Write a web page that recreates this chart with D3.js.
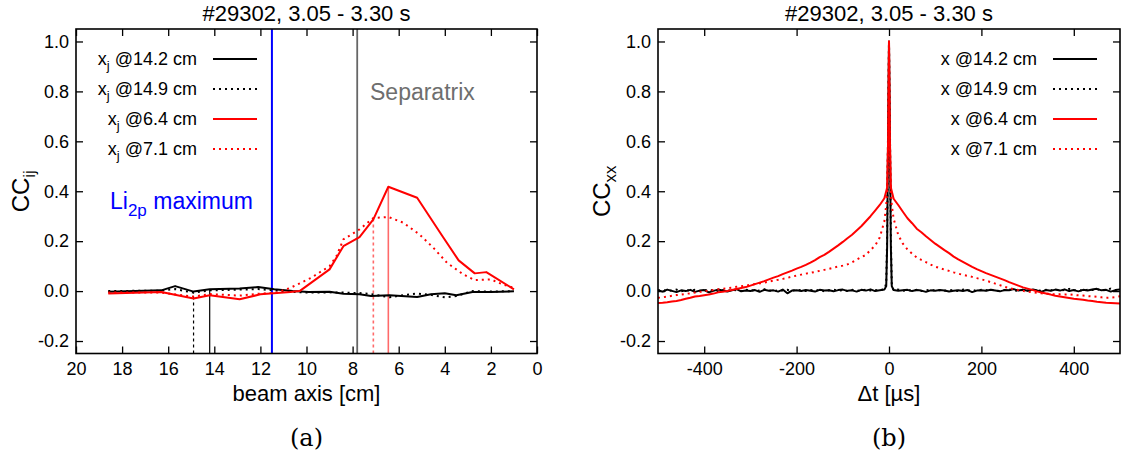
<!DOCTYPE html>
<html>
<head>
<meta charset="utf-8">
<script src="https://cdn.jsdelivr.net/npm/d3@7"></script>
<style>
  body { margin: 0; background: #fff; }
  svg text { font-family: "Liberation Sans", Arial, sans-serif; }
</style>
</head>
<body>
<svg id="fig" width="1123" height="461"></svg>
<script>
// ---- data ----
var titleText = "#29302, 3.05 - 3.30 s";
var yTicks = [-0.2, 0.0, 0.2, 0.4, 0.6, 0.8, 1.0];
var xTicksA = [20, 18, 16, 14, 12, 10, 8, 6, 4, 2, 0];
var xTicksB = [-400, -200, 0, 200, 400];

// panel (a): cross correlation vs beam axis position [cm]
var blackSolidAX = [18.6, 16.3, 15.7, 14.9, 14.2, 12.9, 12.1, 11.4, 10.6, 9.9, 9.0, 8.4, 7.7, 7.2, 6.4, 5.2, 4.6, 4.0, 3.5, 2.8, 2.0, 1.0];
var blackSolidAY = [-0.003, 0.003, 0.020, -0.002, 0.007, 0.010, 0.016, 0.007, 0.000, -0.004, -0.003, -0.011, -0.013, -0.020, -0.017, -0.024, -0.013, -0.009, -0.017, -0.004, -0.004, -0.001];
var blackDotAX = [18.6, 16.3, 15.7, 14.9, 14.2, 12.9, 12.1, 11.4, 10.6, 9.9, 9.0, 8.4, 7.7, 7.2, 6.4, 5.8, 5.2, 4.6, 4.0, 3.5, 2.8, 2.0, 1.0];
var blackDotAY = [0.000, 0.002, 0.008, -0.006, 0.003, 0.006, 0.008, 0.003, -0.003, -0.006, -0.005, -0.006, -0.008, -0.012, -0.025, -0.016, -0.010, -0.015, -0.025, -0.020, 0.000, -0.002, 0.000];
var redSolidAX = [18.6, 16.3, 14.9, 14.2, 12.9, 12.0, 10.7, 10.3, 9.0, 8.4, 7.7, 7.1, 6.45, 5.2, 4.1, 3.4, 2.7, 2.2, 1.0];
var redSolidAY = [-0.010, -0.004, -0.030, -0.017, -0.033, -0.013, -0.004, 0.000, 0.087, 0.180, 0.216, 0.287, 0.418, 0.374, 0.220, 0.123, 0.071, 0.076, 0.007];
var redDotAX = [18.6, 16.3, 14.9, 14.2, 12.9, 12.0, 11.3, 10.7, 9.8, 9.0, 8.7, 8.4, 7.7, 7.1, 6.45, 5.8, 5.1, 4.5, 3.9, 3.2, 2.7, 2.0, 1.5, 1.0];
var redDotAY = [-0.006, -0.006, -0.022, -0.012, -0.018, -0.010, -0.006, 0.013, 0.053, 0.100, 0.140, 0.207, 0.247, 0.293, 0.297, 0.274, 0.227, 0.174, 0.113, 0.067, 0.044, 0.047, 0.027, 0.013];

// reference channel markers (position, height reached)
var markerPos = [14.2, 14.9, 6.45, 7.1];
var markerTop = [0.007, -0.006, 0.418, 0.293];
var li2pPos = 11.5;
var separatrixPos = 7.8;

// panel (b): auto correlation vs time lag [us]
var lagUs = [-500, -490, -480, -470, -460, -450, -440, -430, -420, -410,
  -400, -390, -380, -370, -360, -350, -340, -330, -320, -310,
  -300, -290, -280, -270, -260, -250, -240, -230, -220, -210,
  -200, -190, -180, -170, -160, -150, -140, -130, -120, -110,
  -100, -90, -80, -70, -60, -50, -40, -30, -20, -10,
  -6, -4, -2, 0, 2, 4, 6,
  10, 20, 30, 40, 50, 60, 70, 80, 90, 100,
  110, 120, 130, 140, 150, 160, 170, 180, 190, 200,
  210, 220, 230, 240, 250, 260, 270, 280, 290, 300,
  310, 320, 330, 340, 350, 360, 370, 380, 390, 400,
  410, 420, 430, 440, 450, 460, 470, 480, 490, 500];
var blackSolidB = [0.004, -0.002, 0.006, 0.001, -0.004, 0.003, 0.000, 0.005, -0.003, 0.002,
  0.004, -0.005, 0.001, 0.006, 0.002, -0.002, 0.003, 0.008, -0.001, 0.002,
  0.000, 0.004, -0.003, 0.005, 0.001, 0.003, -0.002, 0.006, -0.009, 0.002,
  0.003, 0.000, 0.004, 0.001, -0.002, 0.005, 0.002, 0.003, -0.001, 0.004,
  0.006, 0.001, 0.003, -0.002, 0.005, 0.002, 0.007, 0.000, 0.003, 0.006,
  0.02, 0.18, 0.62, 1.0, 0.62, 0.18, 0.02,
  0.004, 0.001, 0.003, 0.005, 0.000, 0.004, 0.002, -0.003, 0.003, 0.001,
  0.004, 0.002, -0.002, 0.001, 0.003, 0.000, 0.004, -0.004, 0.002, 0.003,
  0.001, 0.005, 0.002, -0.001, 0.004, 0.003, 0.008, 0.002, 0.005, 0.001,
  0.006, 0.003, -0.002, 0.004, 0.001, 0.006, 0.002, 0.007, 0.000, 0.004,
  -0.001, 0.005, 0.002, 0.006, 0.009, 0.003, 0.005, -0.002, 0.004, 0.006];
var blackDotB = [0.002, 0.005, 0.000, 0.003, 0.006, -0.001, 0.004, 0.002, 0.005, 0.000,
  0.003, 0.006, 0.002, -0.002, 0.004, 0.001, 0.005, 0.003, 0.000, 0.006,
  0.002, 0.004, 0.001, 0.007, 0.003, -0.001, 0.004, 0.002, 0.005, 0.001,
  0.006, 0.003, 0.000, 0.004, 0.002, 0.005, -0.001, 0.003, 0.006, 0.002,
  0.004, 0.000, 0.005, 0.003, 0.001, 0.006, 0.002, 0.004, 0.003, 0.008,
  0.03, 0.22, 0.66, 1.0, 0.66, 0.22, 0.03,
  0.003, 0.006, 0.001, 0.004, 0.002, 0.005, 0.000, 0.003, 0.006, 0.002,
  0.004, 0.001, 0.005, 0.003, 0.000, 0.006, 0.002, 0.004, 0.001, 0.005,
  0.003, 0.006, 0.002, 0.000, 0.004, 0.007, 0.003, 0.001, 0.005, 0.002,
  0.006, 0.004, 0.001, 0.005, 0.003, 0.007, 0.002, 0.004, 0.009, 0.003,
  0.005, 0.001, 0.006, 0.004, 0.008, 0.002, 0.005, 0.010, 0.003, 0.006];
var redSolidB = [-0.048, -0.047, -0.045, -0.042, -0.040, -0.036, -0.031, -0.027, -0.022, -0.020,
  -0.017, -0.014, -0.010, -0.005, -0.003, 0.000, 0.004, 0.008, 0.012, 0.016,
  0.022, 0.028, 0.034, 0.040, 0.047, 0.054, 0.060, 0.068, 0.075, 0.082,
  0.090, 0.097, 0.105, 0.114, 0.124, 0.136, 0.145, 0.157, 0.170, 0.183,
  0.197, 0.212, 0.226, 0.243, 0.260, 0.280, 0.300, 0.322, 0.345, 0.372,
  0.400, 0.415, 0.60, 1.0, 0.60, 0.415, 0.400,
  0.370, 0.345, 0.318, 0.292, 0.272, 0.250, 0.236, 0.220, 0.205, 0.190,
  0.177, 0.164, 0.152, 0.138, 0.127, 0.117, 0.107, 0.097, 0.088, 0.080,
  0.072, 0.065, 0.058, 0.051, 0.044, 0.036, 0.029, 0.022, 0.015, 0.010,
  0.005, -0.001, -0.006, -0.010, -0.014, -0.019, -0.022, -0.025, -0.028, -0.031,
  -0.033, -0.035, -0.038, -0.040, -0.043, -0.045, -0.047, -0.048, -0.049, -0.050];
var redDotB = [-0.027, -0.025, -0.022, -0.019, -0.016, -0.014, -0.011, -0.009, -0.006, -0.003,
  -0.001, 0.002, 0.004, 0.007, 0.009, 0.011, 0.014, 0.017, 0.019, 0.022,
  0.025, 0.028, 0.031, 0.034, 0.038, 0.042, 0.045, 0.049, 0.053, 0.058,
  0.062, 0.066, 0.070, 0.073, 0.077, 0.081, 0.085, 0.089, 0.094, 0.098,
  0.102, 0.107, 0.115, 0.126, 0.136, 0.145, 0.165, 0.182, 0.215, 0.280,
  0.345, 0.40, 0.60, 1.0, 0.60, 0.40, 0.345,
  0.290, 0.225, 0.190, 0.167, 0.150, 0.135, 0.125, 0.116, 0.106, 0.098,
  0.092, 0.086, 0.081, 0.075, 0.070, 0.065, 0.061, 0.057, 0.052, 0.047,
  0.042, 0.036, 0.030, 0.024, 0.017, 0.012, 0.008, 0.004, 0.001, -0.002,
  -0.005, -0.007, -0.009, -0.010, -0.012, -0.013, -0.013, -0.014, -0.013, -0.015,
  -0.017, -0.018, -0.020, -0.021, -0.023, -0.025, -0.027, -0.026, -0.024, -0.021];

var legendA = [["x", "j", " @14.2 cm"], ["x", "j", " @14.9 cm"], ["x", "j", " @6.4 cm"], ["x", "j", " @7.1 cm"]];
var legendB = [["x", "", " @14.2 cm"], ["x", "", " @14.9 cm"], ["x", "", " @6.4 cm"], ["x", "", " @7.1 cm"]];
var seriesColor = ["#000", "#000", "#ff0000", "#ff0000"];
var seriesDash = [null, "2,4", null, "2,4"];

// ---- drawing ----
var svg = d3.select("#fig");
var plotTop = 29, plotBottom = 353.5;

function zip(xs, ys) {
	return xs.map(function(x, i) {return [x, ys[i]];});
}

function buildPanel(opt) {
	var x = d3.scaleLinear().domain(opt.xDomain).range([opt.left, opt.right]);
	var y = d3.scaleLinear().domain([-0.25, 1.05]).range([plotBottom, plotTop]);
	var g = svg.append("g");

	// axes, gnuplot style: inward ticks on all four sides
	var ax = g.append("g").attr("transform", "translate(0," + plotBottom + ")")
			.call(d3.axisBottom(x).tickValues(opt.xTicks).tickSize(-7).tickPadding(9)
				.tickFormat(function(d) {return String(d);}));
	var axTop = g.append("g").attr("transform", "translate(0," + plotTop + ")")
			.call(d3.axisTop(x).tickValues(opt.xTicks).tickSize(-7).tickFormat(""));
	var ay = g.append("g").attr("transform", "translate(" + opt.left + ",0)")
			.call(d3.axisLeft(y).tickValues(yTicks).tickSize(-7).tickPadding(7)
				.tickFormat(function(d) {return d.toFixed(1);}));
	var ayR = g.append("g").attr("transform", "translate(" + opt.right + ",0)")
			.call(d3.axisRight(y).tickValues(yTicks).tickSize(-7).tickFormat(""));
	[ax, axTop, ay, ayR].forEach(function(a) {
		a.select(".domain").remove();
		a.selectAll("line").attr("stroke", "#000").attr("stroke-width", 1.3);
		a.selectAll("text").attr("font-size", 18).attr("fill", "#000")
			.style("font-family", "'Liberation Sans', Arial, sans-serif");
	});

	var plot = g.append("g");
	var line = d3.line().x(function(d) {return x(d[0]);}).y(function(d) {return y(d[1]);});

	if (opt.extra) opt.extra(plot, x, y);

	opt.series.forEach(function(s, i) {
		plot.append("path")
			.datum(s)
			.attr("d", line)
			.attr("fill", "none")
			.attr("stroke", seriesColor[i])
			.attr("stroke-width", 2)
			.attr("stroke-dasharray", seriesDash[i])
			.attr("stroke-linejoin", "round");
	});

	// frame
	g.append("rect")
		.attr("x", opt.left).attr("y", plotTop)
		.attr("width", opt.right - opt.left).attr("height", plotBottom - plotTop)
		.attr("fill", "none").attr("stroke", "#000").attr("stroke-width", 1.6);

	// title and labels
	var cx = (opt.left + opt.right) / 2;
	g.append("text").attr("x", cx).attr("y", 21).attr("text-anchor", "middle")
		.attr("font-size", 22).text(titleText);
	g.append("text").attr("x", cx).attr("y", 401).attr("text-anchor", "middle")
		.attr("font-size", 22).text(opt.xLabel);
	g.append("text").attr("x", cx).attr("y", 446).attr("text-anchor", "middle")
		.attr("font-size", 24).style("font-family", "'DejaVu Serif', 'Liberation Serif', serif")
		.text(opt.panel);
	var yl = g.append("text")
		.attr("transform", "translate(" + opt.yLabelX + "," + ((plotTop + plotBottom) / 2) + ") rotate(-90)")
		.attr("text-anchor", "middle").attr("font-size", 24);
	yl.append("tspan").text("CC");
	yl.append("tspan").attr("font-size", 17).attr("dy", 6).text(opt.ySub);

	// legend
	opt.legend.forEach(function(l, i) {
		var ly = 59 + i * 30;
		var t = g.append("text").attr("x", opt.legendX).attr("y", ly + 6)
			.attr("text-anchor", "end").attr("font-size", 18);
		t.append("tspan").text(l[0]);
		if (l[1]) {
			t.append("tspan").attr("font-size", 13).attr("dy", 5).text(l[1]);
			t.append("tspan").attr("dy", -5).text(l[2]);
		} else {
			t.append("tspan").text(l[2]);
		}
		g.append("line")
			.attr("x1", opt.legendX + 16).attr("x2", opt.legendX + 60)
			.attr("y1", ly).attr("y2", ly)
			.attr("stroke", seriesColor[i]).attr("stroke-width", 2)
			.attr("stroke-dasharray", seriesDash[i]);
	});
}

buildPanel({
	left: 76, right: 537,
	xDomain: [20, 0], xTicks: xTicksA,
	xLabel: "beam axis [cm]", panel: "(a)", ySub: "ij", yLabelX: 29,
	legend: legendA, legendX: 197,
	series: [zip(blackSolidAX, blackSolidAY), zip(blackDotAX, blackDotAY),
		zip(redSolidAX, redSolidAY), zip(redDotAX, redDotAY)],
	extra: function(plot, x, y) {
		plot.append("line")
			.attr("x1", x(li2pPos)).attr("x2", x(li2pPos)).attr("y1", plotTop).attr("y2", plotBottom)
			.attr("stroke", "#0000ff").attr("stroke-width", 2);
		plot.append("line")
			.attr("x1", x(separatrixPos)).attr("x2", x(separatrixPos)).attr("y1", plotTop).attr("y2", plotBottom)
			.attr("stroke", "#666").attr("stroke-width", 1.8);
		var mColor = ["#000", "#000", "#ff6a6a", "#ff6a6a"];
		var mWidth = [1.2, 1.2, 1.6, 1.6];
		var mDash = [null, "3,3", null, "3,3"];
		markerPos.forEach(function(p, i) {
			plot.append("line")
				.attr("x1", x(p)).attr("x2", x(p))
				.attr("y1", plotBottom).attr("y2", y(markerTop[i]))
				.attr("stroke", mColor[i]).attr("stroke-width", mWidth[i])
				.attr("stroke-dasharray", mDash[i]);
		});
		var li = plot.append("text").attr("x", 110).attr("y", 209)
			.attr("font-size", 23).attr("fill", "#0000ff");
		li.append("tspan").text("Li");
		li.append("tspan").attr("font-size", 17).attr("dy", 7).text("2p");
		li.append("tspan").attr("dy", -7).text(" maximum");
		plot.append("text").attr("x", 370).attr("y", 100)
			.attr("font-size", 23).attr("fill", "#6e6e6e").text("Separatrix");
	}
});

buildPanel({
	left: 658, right: 1120,
	xDomain: [-500, 500], xTicks: xTicksB,
	xLabel: "\u0394t [\u00b5s]", panel: "(b)", ySub: "xx", yLabelX: 610,
	legend: legendB, legendX: 1037,
	series: [zip(lagUs, blackSolidB), zip(lagUs, blackDotB),
		zip(lagUs, redSolidB), zip(lagUs, redDotB)]
});
</script>
</body>
</html>
